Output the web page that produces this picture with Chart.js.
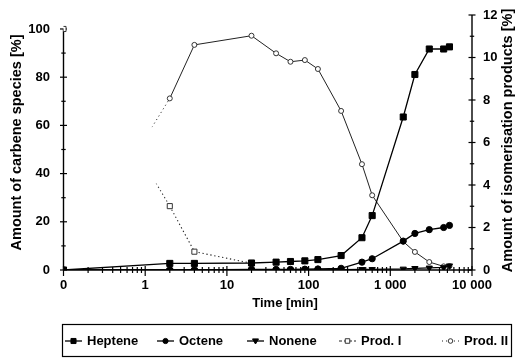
<!DOCTYPE html>
<html>
<head>
<meta charset="utf-8">
<script src="https://cdn.jsdelivr.net/npm/chart.js@4.4.1/dist/chart.umd.min.js"></script>
<style>
  html, body { margin: 0; padding: 0; background: #fff; }
  canvas { display: block; }
</style>
</head>
<body>
<canvas id="c" width="516" height="361"></canvas>
<script>
// Sampling times [min]
const times = [0, 2, 4, 20, 40, 60, 90, 130, 250, 450, 600, 1440, 2000, 3000, 4500, 5300];

// Isomerisation products [%] (right axis)
const heptene = [0, 0.31, 0.31, 0.33, 0.37, 0.40, 0.43, 0.49, 0.68, 1.52, 2.56, 7.2, 9.2, 10.4, 10.4, 10.5];
const octene  = [0, 0, 0, 0.03, 0.03, 0.03, 0.04, 0.05, 0.08, 0.37, 0.53, 1.36, 1.72, 1.9, 2.0, 2.1];
const nonene  = [0, 0, 0, 0, 0, 0, 0, 0, 0.02, 0.03, 0.03, 0.05, 0.08, 0.1, 0.12, 0.2];

// Carbene species [%] (left axis)
const prodI  = [100, 26.5, 7.6, 2.8, null, null, null, null, null, null, null, null, null, null, null, null];
const prodII = [0, 71.2, 93.4, 97.2, 89.9, 86.4, 87.1, 83.4, 66.0, 43.9, 31.0, 11.8, 7.5, 3.3, 1.5, 1.6];

// Axis ticks
const xTickValues = [0.1, 1, 10, 100, 1000, 10000];
const xTickLabels = ['0', '1', '10', '100', '1 000', '10 000'];
const leftTicks = [0, 20, 40, 60, 80, 100];
const rightTicks = [0, 2, 4, 6, 8, 10, 12];

// t = 0 is drawn one decade below 1 min on the log time axis
const ZERO_AT = 0.1;
const FONT = "'Liberation Sans', Arial, Helvetica, sans-serif";

const toPoints = arr => times
  .map((t, i) => arr[i] == null ? null : { x: t === 0 ? ZERO_AT : t, y: arr[i] })
  .filter(p => p !== null);

// The first leg (from t = 0) is only faintly dotted near its end
function fadeIn(from) {
  return ctx => {
    if (ctx.p0DataIndex !== 0) return undefined;
    const g = ctx.chart.ctx.createLinearGradient(ctx.p0.x, ctx.p0.y, ctx.p1.x, ctx.p1.y);
    g.addColorStop(0, 'rgba(0,0,0,0)');
    g.addColorStop(from, 'rgba(0,0,0,0)');
    g.addColorStop(Math.min(1, from + 0.03), 'rgba(20,20,20,0.85)');
    g.addColorStop(1, 'rgba(20,20,20,0.85)');
    return g;
  };
}

function drawMarker(ctx, style, x, y, r, fill, stroke) {
  ctx.save();
  ctx.fillStyle = fill;
  ctx.strokeStyle = stroke;
  ctx.lineWidth = 1;
  ctx.setLineDash([]);
  ctx.beginPath();
  if (style === 'rect') {
    const s = r * Math.SQRT1_2;
    ctx.rect(x - s, y - s, 2 * s, 2 * s);
  } else if (style === 'circle') {
    ctx.arc(x, y, r, 0, Math.PI * 2);
  } else if (style === 'triangleDown') {
    ctx.moveTo(x - r, y - r * 0.7);
    ctx.lineTo(x + r, y - r * 0.7);
    ctx.lineTo(x, y + r);
    ctx.closePath();
  }
  ctx.fill();
  ctx.stroke();
  ctx.restore();
}

// Axis lines, crossing tick marks, titles and boxed legend
const framePlugin = {
  id: 'frame',
  beforeDatasetsDraw(chart) {
    const { ctx, chartArea: { left, right, bottom }, scales: { x, y, y1 } } = chart;
    ctx.save();
    ctx.strokeStyle = '#000';
    ctx.lineWidth = 1.4;
    const seg = (x0, y0, x1, y1_) => { ctx.beginPath(); ctx.moveTo(x0, y0); ctx.lineTo(x1, y1_); ctx.stroke(); };

    seg(left, y.getPixelForValue(100), left, bottom);
    seg(right, y1.getPixelForValue(12), right, bottom);
    seg(left, bottom, right, bottom);

    ctx.lineWidth = 1.2;
    for (let v = 0; v <= 100; v += 10) {
      const py = y.getPixelForValue(v);
      const h = v % 20 === 0 ? 3.5 : 2.2;
      seg(left - h, py, left + h, py);
    }
    for (let v = 0; v <= 12; v += 1) {
      const py = y1.getPixelForValue(v);
      const h = v % 2 === 0 ? 3.5 : 2.2;
      seg(right - h, py, right + h, py);
    }
    for (let d = 0.1; d < 10001; d *= 10) {
      const px = x.getPixelForValue(d);
      seg(px, bottom - 4, px, bottom + 6);
      if (d < 10000) {
        for (let m = 2; m <= 9; m++) {
          const mx = x.getPixelForValue(d * m);
          seg(mx, bottom - 3, mx, bottom + 3);
        }
      }
    }
    ctx.restore();
  },
  afterDraw(chart) {
    const { ctx, chartArea: { top, bottom } } = chart;
    ctx.save();
    ctx.fillStyle = '#000';
    ctx.textAlign = 'center';
    ctx.textBaseline = 'middle';
    // time axis title
    ctx.font = `bold 13px ${FONT}`;
    ctx.fillText('Time [min]', 285, 303);
    // right axis title, read bottom to top
    ctx.translate(508, (top + bottom) / 2 - 2);
    ctx.rotate(-Math.PI / 2);
    ctx.font = `bold 14.5px ${FONT}`;
    ctx.fillText('Amount of isomerisation products [%]', 0, 0);
    ctx.restore();

    // legend box
    ctx.save();
    ctx.strokeStyle = '#000';
    ctx.lineWidth = 1.2;
    ctx.strokeRect(62.5, 324.5, 449, 32);
    const itemX = [65, 157, 247, 339, 442];
    const cy = 341;
    ctx.font = `bold 13px ${FONT}`;
    ctx.textBaseline = 'middle';
    ctx.fillStyle = '#000';
    chart.data.datasets.forEach((ds, i) => {
      const x0 = itemX[i];
      ctx.save();
      ctx.strokeStyle = ds.borderColor;
      ctx.lineWidth = ds.borderWidth;
      ctx.setLineDash(ds.legendDash || []);
      ctx.beginPath();
      ctx.moveTo(x0, cy);
      ctx.lineTo(x0 + 17, cy);
      ctx.stroke();
      ctx.restore();
      drawMarker(ctx, ds.legendMarker, x0 + 8.5, cy, ds.legendRadius, ds.pointBackgroundColor, ds.pointBorderColor);
      ctx.fillStyle = '#000';
      ctx.fillText(ds.label, x0 + 22, cy + 0.5);
    });
    ctx.restore();
  }
};

new Chart(document.getElementById('c'), {
  type: 'line',
  data: {
    datasets: [
      {
        label: 'Heptene', data: toPoints(heptene), yAxisID: 'y1',
        borderColor: '#000', borderWidth: 1.3,
        pointStyle: 'rect', pointRadius: 4.3, pointBackgroundColor: '#000', pointBorderColor: '#000', pointBorderWidth: 1,
        legendMarker: 'rect', legendRadius: 3.6
      },
      {
        label: 'Octene', data: toPoints(octene), yAxisID: 'y1',
        borderColor: '#000', borderWidth: 1.3,
        pointStyle: 'circle', pointRadius: 3.1, pointBackgroundColor: '#000', pointBorderColor: '#000', pointBorderWidth: 1,
        legendMarker: 'circle', legendRadius: 2.6
      },
      {
        label: 'Nonene', data: toPoints(nonene), yAxisID: 'y1',
        borderColor: '#000', borderWidth: 1.3,
        pointStyle: 'triangle', pointRotation: 180, pointRadius: 3.6, pointBackgroundColor: '#000', pointBorderColor: '#000', pointBorderWidth: 1,
        legendMarker: 'triangleDown', legendRadius: 3
      },
      {
        label: 'Prod. I', data: toPoints(prodI), yAxisID: 'y',
        borderColor: '#222', borderWidth: 1.1, borderDash: [1.3, 2.7],
        pointStyle: 'rect', pointRadius: 3.6, pointBackgroundColor: '#fff', pointBorderColor: '#333', pointBorderWidth: 1,
        segment: { borderColor: fadeIn(0.86) },
        legendMarker: 'rect', legendRadius: 3.2, legendDash: [3, 2]
      },
      {
        label: 'Prod. II', data: toPoints(prodII), yAxisID: 'y',
        borderColor: '#222', borderWidth: 1,
        pointStyle: 'circle', pointRadius: 2.5, pointBackgroundColor: '#fff', pointBorderColor: '#333', pointBorderWidth: 1,
        segment: { borderColor: fadeIn(0.82), borderDash: ctx => ctx.p0DataIndex === 0 ? [1.2, 3] : undefined },
        legendMarker: 'circle', legendRadius: 2.3, legendDash: [1, 3]
      }
    ]
  },
  options: {
    responsive: false,
    animation: false,
    devicePixelRatio: 1,
    layout: { padding: { top: 15, bottom: 40, left: 0, right: 0 } },
    plugins: { legend: { display: false }, tooltip: { enabled: false } },
    scales: {
      x: {
        type: 'logarithmic', position: 'bottom', min: ZERO_AT, max: 10000,
        grid: { display: false, drawTicks: true, tickLength: 8 }, border: { display: false },
        afterBuildTicks: s => { s.ticks = xTickValues.map(v => ({ value: v })); },
        afterFit: s => { s.height = 51; },
        ticks: {
          autoSkip: false, maxRotation: 0, minRotation: 0, padding: 0, color: '#000',
          font: { family: FONT, size: 13, weight: 'bold' },
          callback: (v, i) => xTickLabels[i]
        },
        title: { display: false }
      },
      y: {
        position: 'left', min: 0, max: 105.8,
        grid: { display: false, drawTicks: true, tickLength: 13.5 }, border: { display: false },
        afterBuildTicks: s => { s.ticks = leftTicks.map(v => ({ value: v })); },
        afterFit: s => { s.width = 63.5; },
        ticks: { padding: 0, color: '#000', font: { family: FONT, size: 13, weight: 'bold' } },
        title: {
          display: true, text: 'Amount of carbene species [%]', color: '#000',
          font: { family: FONT, size: 14.5, weight: 'bold' }, padding: { top: 8, bottom: 0 }
        }
      },
      y1: {
        position: 'right', min: 0, max: 12,
        grid: { display: false, drawTicks: true, tickLength: 11 }, border: { display: false },
        afterBuildTicks: s => { s.ticks = rightTicks.map(v => ({ value: v })); },
        afterFit: s => { s.width = 44; },
        ticks: { padding: 0, color: '#000', font: { family: FONT, size: 13, weight: 'bold' } }
      }
    }
  },
  plugins: [framePlugin]
});
</script>
</body>
</html>
